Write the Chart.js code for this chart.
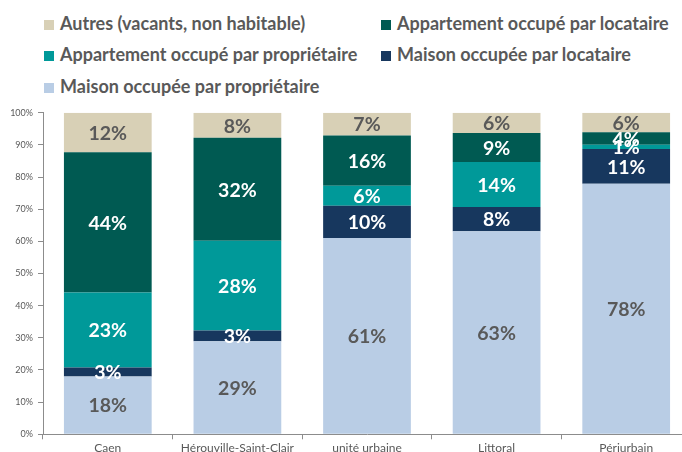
<!DOCTYPE html>
<html lang="fr">
<head>
<meta charset="utf-8">
<title>Statut d'occupation des logements</title>
<script src="https://cdn.jsdelivr.net/npm/chart.js@4.4.1/dist/chart.umd.min.js"></script>
<style>
  body { margin: 0; overflow: hidden; background: #fff; width: 682px; height: 452px; }
  #wrap { position: absolute; left: 0; top: 0; width: 691px; height: 452px; }
  #legend { position: absolute; left: 0; top: 0; width: 682px; height: 100px; font-family: Lato, sans-serif; font-weight: bold; font-size: 18px; color: #595959; }
  .item { position: absolute; white-space: nowrap; line-height: 20px; }
  .item i { display: inline-block; width: 10px; height: 10px; margin-right: 6px; vertical-align: 0px; }
</style>
</head>
<body>
<div id="legend"></div>
<div id="wrap"><canvas id="chart"></canvas></div>
<script>
const categories = ['Caen', 'Hérouville-Saint-Clair', 'unité urbaine', 'Littoral', 'Périurbain'];
const maisonProprio = [18.0, 28.9, 61.0, 63.1, 77.9];
const maisonLocataire = [2.8, 3.4, 10.1, 7.6, 10.8];
const appartProprio = [23.3, 27.9, 6.2, 14.0, 1.3];
const appartLocataire = [43.6, 32.0, 15.6, 9.0, 3.9];
const autres = [12.3, 7.8, 7.1, 6.3, 6.1];
const yTicks = [0, 10, 20, 30, 40, 50, 60, 70, 80, 90, 100];

const GREY = '#595959';

const datasets = [
  { label: 'Maison occupée par propriétaire', data: maisonProprio, backgroundColor: '#B9CDE5', labelColor: GREY },
  { label: 'Maison occupée par locataire', data: maisonLocataire, backgroundColor: '#17375E', labelColor: '#fff' },
  { label: 'Appartement occupé par propriétaire', data: appartProprio, backgroundColor: '#009999', labelColor: '#fff' },
  { label: 'Appartement occupé par locataire', data: appartLocataire, backgroundColor: '#005A52', labelColor: '#fff' },
  { label: 'Autres (vacants, non habitable)', data: autres, backgroundColor: '#D8D0B6', labelColor: GREY }
];

// values written in the middle of each segment
const barLabels = {
  id: 'barLabels',
  afterDatasetsDraw(chart) {
    const ctx = chart.ctx;
    ctx.save();
    ctx.font = 'bold 19.5px Lato';
    ctx.textAlign = 'center';
    ctx.textBaseline = 'middle';
    chart.data.datasets.forEach((ds, i) => {
      chart.getDatasetMeta(i).data.forEach((bar, j) => {
        const p = bar.getProps(['x', 'y', 'base'], true);
        ctx.fillStyle = ds.labelColor;
        ctx.fillText(Math.round(ds.data[j]) + '%', p.x, (p.y + p.base) / 2 + 1);
      });
    });
    ctx.restore();
  }
};

const chart = new Chart(document.getElementById('chart'), {
  type: 'bar',
  data: { labels: categories, datasets: datasets },
  options: {
    responsive: true,
    maintainAspectRatio: false,
    animation: false,
    layout: { padding: { top: 112.7, left: 0, right: 0, bottom: 0 } },
    datasets: { bar: { barPercentage: 1, categoryPercentage: 0.677 } },
    plugins: { legend: { display: false }, tooltip: { enabled: false } },
    scales: {
      x: {
        stacked: true,
        afterFit: s => { s.height = 17.7; },
        border: { color: '#8C8C8C', width: 1 },
        grid: { drawOnChartArea: false, drawTicks: true, tickLength: 5, color: '#8C8C8C', offset: true },
        ticks: { color: GREY, padding: 2, font: { family: 'Lato', size: 12 }, maxRotation: 0 }
      },
      y: {
        stacked: true,
        min: 0,
        max: 100,
        afterFit: s => { s.width = 43; },
        afterBuildTicks: s => { s.ticks = yTicks.map(v => ({ value: v })); },
        border: { color: '#8C8C8C', width: 1 },
        grid: { drawOnChartArea: false, drawTicks: true, tickLength: 5, color: '#8C8C8C' },
        ticks: { color: GREY, padding: 5, font: { family: 'Lato', size: 9 }, callback: v => v + '%' }
      }
    }
  },
  plugins: [barLabels]
});

// legend in two columns, top of the stack first
const legend = document.getElementById('legend');
const slots = [[44, 13], [381, 13], [44, 44], [381, 44], [44, 76]];
datasets.slice().reverse().forEach((ds, k) => {
  const el = document.createElement('div');
  el.className = 'item';
  el.style.left = slots[k][0] + 'px';
  el.style.top = slots[k][1] + 'px';
  el.innerHTML = '<i style="background:' + ds.backgroundColor + '"></i>' + ds.label;
  legend.appendChild(el);
});
</script>
</body>
</html>
